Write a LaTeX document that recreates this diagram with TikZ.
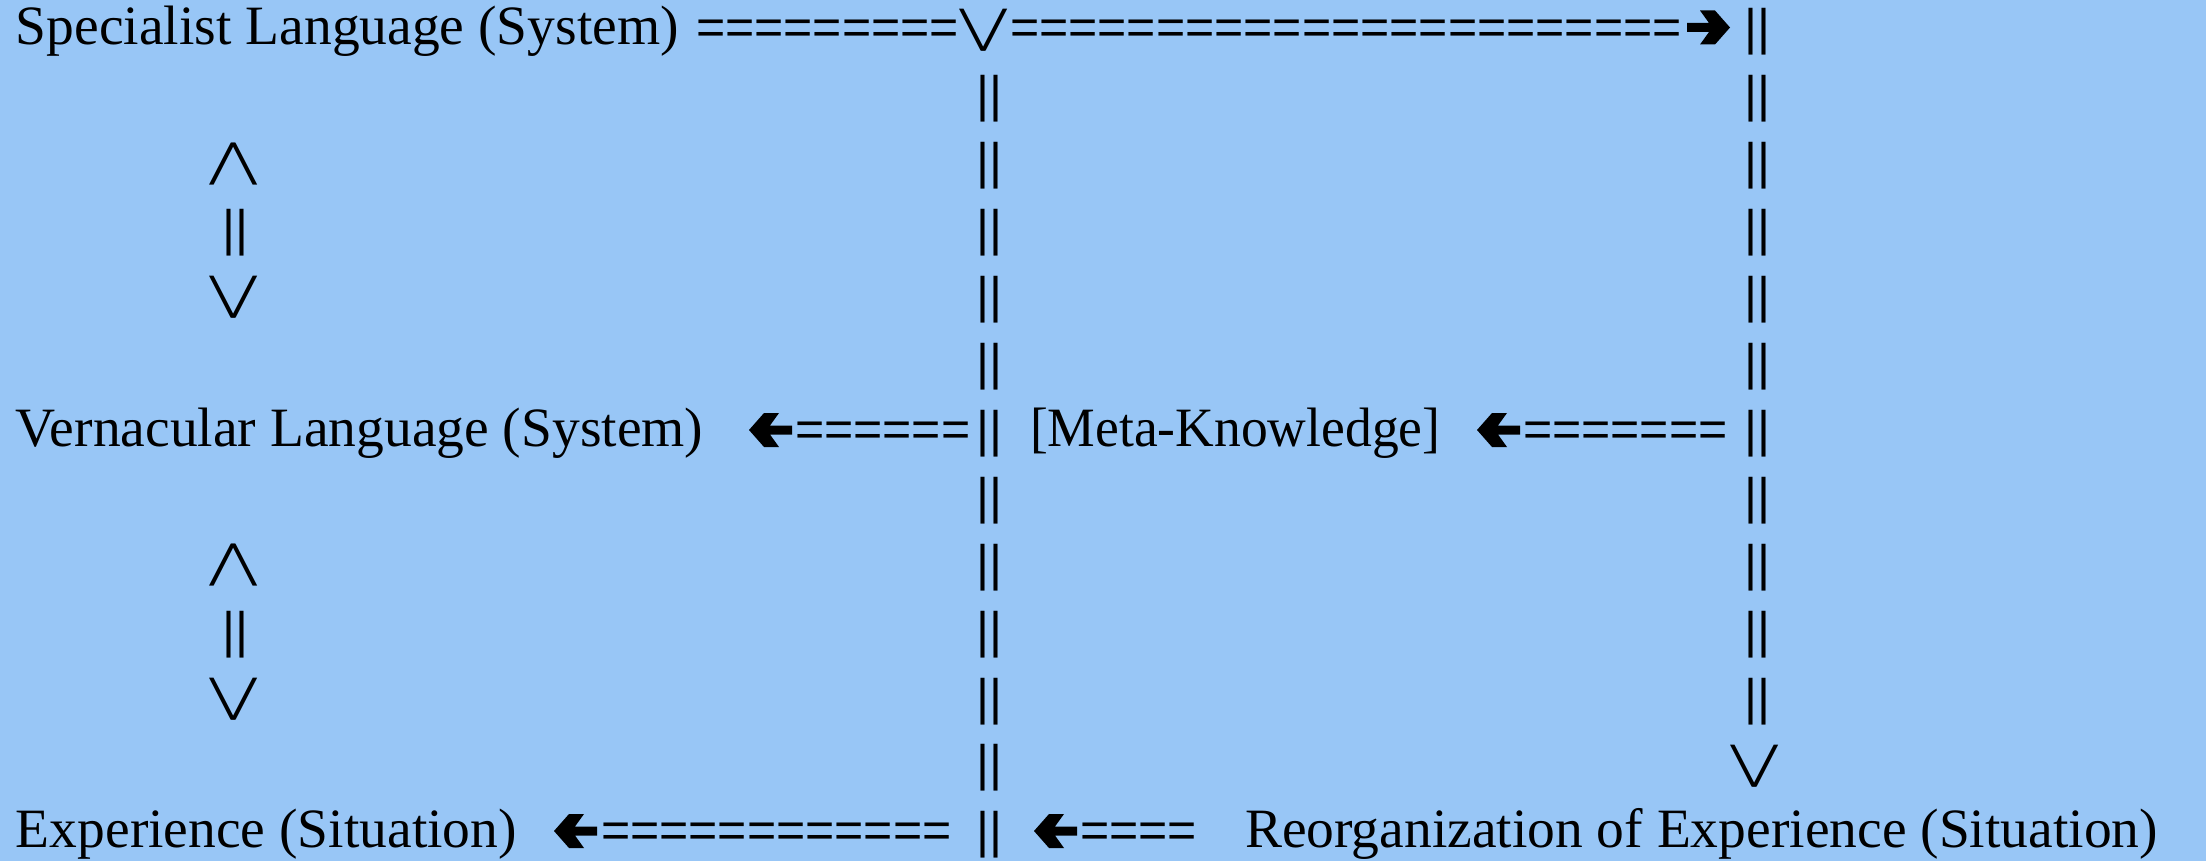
\documentclass[tikz,border=0pt]{standalone}
\usepackage{fontspec}
\usepackage{graphicx}
\newfontfamily\txtf{Liberation Serif}
\newfontfamily\symf{Liberation Sans}
\definecolor{bg}{RGB}{152,198,246}
\newcommand{\myvee}{\scalebox{1.7}[1.13]{\textbackslash\kern-2.5pt/}}
\newcommand{\mywedge}{\scalebox{1.7}[1.13]{/\kern-2.5pt\textbackslash}}
\begin{document}
\begin{tikzpicture}[x=1pt,y=-1pt,
  every node/.style={inner sep=0pt,outer sep=0pt},
  lbl/.style={anchor=base west,font=\txtf\fontsize{55.5}{60}\selectfont},
  eqs/.style={anchor=base west,font=\symf\fontsize{50}{52}\selectfont},
  bars/.style={anchor=base,font=\symf\fontsize{50}{52}\selectfont},
  slash/.style={anchor=center,font=\txtf\fontsize{55.5}{60}\selectfont},
  rarrow/.pic={\fill (0,0) -- (-15,-17) -- (-30,-17) -- (-21,-4.5) -- (-43,-4.5)
     -- (-43,4.5) -- (-21,4.5) -- (-30,17) -- (-15,17) -- cycle;},
  larrow/.pic={\fill (0,0) -- (15,-17) -- (30,-17) -- (21,-4.5) -- (43,-4.5)
     -- (43,4.5) -- (21,4.5) -- (30,17) -- (15,17) -- cycle;}]
\fill[bg] (0,0) rectangle (2206,861);
\useasboundingbox (0,0) rectangle (2206,861);
% row 0
\node[lbl] (spec) at (16,45) {Specialist Language (System)};
\node[eqs] (e0a) at (696,45) {=========};
\node[slash] (v0) at (983.5,30) {\myvee};
\node[eqs] (e0b) at (1010,45) {=======================};
\pic (a0) at (1730,27.5) {rarrow};
% columns
\foreach \i in {1,...,12} \node[bars] (L\i) at (989,{45+66.9*\i}) {||};
\foreach \i in {0,...,10} \node[bars] (R\i) at (1757.5,{45+66.9*\i}) {||};
\node[slash] (v11) at (1755,{30+66.9*11}) {\myvee};
% small left column
\foreach \k/\n in {2/a,8/b} {
  \node[slash] (up\n) at (234,{30+66.9*\k}) {\mywedge};
  \node[bars] (mid\n) at (235,{45+66.9*(\k+1)}) {||};
  \node[slash] (dn\n) at (234,{30+66.9*(\k+2)}) {\myvee};
}
% row 6
\node[lbl] (vern) at (16,446.4) {Vernacular Language (System)};
\pic (a6a) at (749,430) {larrow};
\node[eqs] (e6a) at (795,446.4) {======};
\node[lbl] (meta) at (1030,446.4) {\scalebox{0.965}[1]{[Meta-Knowledge]}};
\pic (a6b) at (1477,430) {larrow};
\node[eqs] (e6b) at (1523,446.4) {=======};
% row 12
\node[lbl] (exp) at (16,847.8) {Experience (Situation)};
\pic (a12a) at (554,831) {larrow};
\node[eqs] (e12a) at (601,847.8) {============};
\pic (a12b) at (1034,831) {larrow};
\node[eqs] (e12b) at (1080,847.8) {====};
\node[lbl] (reorg) at (1245,847.8) {Reorganization of Experience (Situation)};
\end{tikzpicture}
\end{document}
